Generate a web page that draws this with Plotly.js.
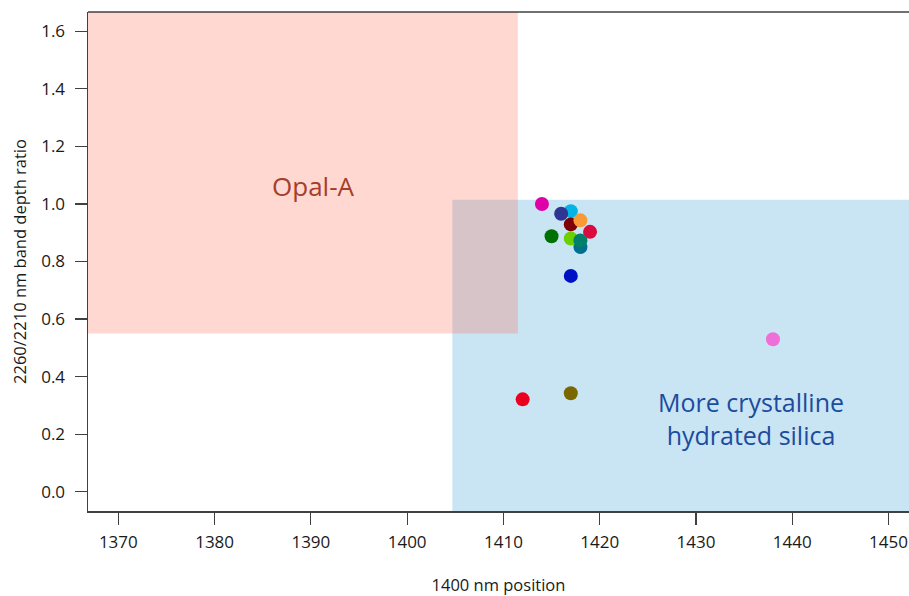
<!DOCTYPE html>
<html>
<head>
<meta charset="utf-8">
<script src="https://cdn.plot.ly/plotly-3.0.1.min.js"></script>
<style>
  html, body { margin: 0; padding: 0; background: #ffffff; }
  #chart { width: 909px; height: 596px; }
</style>
</head>
<body>
<div id="chart"></div>
<script>
// 1400 nm band position vs. 2260/2210 nm band depth ratio for each sample
const samplePosition = [1418, 1417, 1414, 1417, 1416, 1417, 1418, 1419, 1415, 1417, 1418, 1412, 1417, 1438];
const sampleRatio    = [0.850, 0.750, 1.000, 0.975, 0.966, 0.929, 0.943, 0.903, 0.888, 0.880, 0.873, 0.321, 0.342, 0.530];
const sampleColors   = ['#006f8c', '#0010c4', '#e000a8', '#00b5e6', '#2e3592', '#7d0008', '#f99a34', '#d80a3e',
                        '#007005', '#6bd000', '#00806a', '#e8001e', '#7a6700', '#ee6fd8'];

// Axis extents and ticks
const xRange = [1366.85, 1452.13];
const yRange = [-0.067, 1.667];
const xTicks = [1370, 1380, 1390, 1400, 1410, 1420, 1430, 1440, 1450];
const yTicks = [0.0, 0.2, 0.4, 0.6, 0.8, 1.0, 1.2, 1.4, 1.6];
const yTickText = ['0.0', '0.2', '0.4', '0.6', '0.8', '1.0', '1.2', '1.4', '1.6'];

// Field boundaries: Opal-A (upper left) and more crystalline hydrated silica (lower right)
const opalMaxPosition = 1411.5;
const opalMinRatio = 0.55;
const crystallineMinPosition = 1404.7;
const crystallineMaxRatio = 1.015;

// Field labels
const fieldLabels = ['Opal-A', 'More crystalline<br>hydrated silica'];
const fieldLabelX = [1390.3, 1435.7];
const fieldLabelY = [1.063, 0.256];

const axisColor = '#404040';
const font = 'Open Sans, sans-serif';

const trace = {
  type: 'scatter',
  mode: 'markers',
  x: samplePosition,
  y: sampleRatio,
  marker: { size: 14, color: sampleColors, line: { width: 0 } },
  hoverinfo: 'x+y',
  showlegend: false
};

const layout = {
  width: 909,
  height: 596,
  margin: { l: 88, r: 0, t: 12, b: 85 },
  paper_bgcolor: '#ffffff',
  plot_bgcolor: '#ffffff',
  font: { family: font, color: '#1a1a1a', size: 16 },
  showlegend: false,
  xaxis: {
    range: xRange,
    tickvals: xTicks,
    ticks: 'outside',
    ticklen: 12,
    tickwidth: 1.2,
    tickcolor: axisColor,
    showline: true,
    linecolor: axisColor,
    linewidth: 1.5,
    showgrid: false,
    zeroline: false,
    tickfont: { family: font, size: 17, color: '#1a1a1a' },
    ticklabelstandoff: 3,
    title: { text: '1400 nm position', font: { family: font, size: 16.5, color: '#1a1a1a' }, standoff: 31 }
  },
  yaxis: {
    range: yRange,
    tickvals: yTicks,
    ticktext: yTickText,
    ticks: 'outside',
    ticklen: 12,
    tickwidth: 1.2,
    tickcolor: axisColor,
    showline: true,
    linecolor: axisColor,
    linewidth: 1.5,
    showgrid: false,
    zeroline: false,
    tickfont: { family: font, size: 17, color: '#1a1a1a' },
    ticklabelstandoff: 6,
    title: { text: '2260/2210 nm band depth ratio', font: { family: font, size: 16.5, color: '#1a1a1a' }, standoff: 10 }
  },
  shapes: [
    {
      type: 'rect', layer: 'below', xref: 'x', yref: 'y',
      x0: crystallineMinPosition, x1: xRange[1], y0: yRange[0], y1: crystallineMaxRatio,
      fillcolor: '#c9e4f3', line: { width: 0 }
    },
    {
      type: 'rect', layer: 'below', xref: 'x', yref: 'y',
      x0: xRange[0], x1: opalMaxPosition, y0: opalMinRatio, y1: yRange[1],
      fillcolor: 'rgba(255, 100, 72, 0.25)', line: { width: 0 }
    },
    {
      type: 'line', xref: 'paper', yref: 'paper',
      x0: 0, x1: 1, y0: 1, y1: 1,
      line: { color: axisColor, width: 1.5 }
    }
  ],
  annotations: [
    {
      x: fieldLabelX[0], y: fieldLabelY[0], xref: 'x', yref: 'y',
      text: fieldLabels[0], showarrow: false,
      font: { family: font, size: 26, color: '#a3402b' }
    },
    {
      x: fieldLabelX[1], y: fieldLabelY[1], xref: 'x', yref: 'y',
      text: fieldLabels[1], showarrow: false,
      font: { family: font, size: 25, color: '#1b4c9e' }
    }
  ]
};

Plotly.newPlot('chart', [trace], layout, { displayModeBar: false, staticPlot: true });
</script>
</body>
</html>
